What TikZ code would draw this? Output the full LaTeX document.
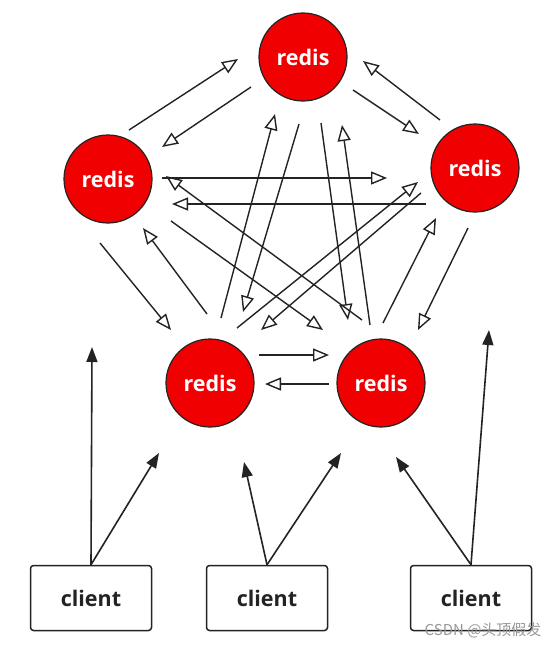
\documentclass[tikz,border=0pt]{standalone}
\usepackage{fontspec}
\setmainfont{Open Sans}
\newfontfamily\cjkfont{Noto Sans CJK SC}
\usetikzlibrary{arrows.meta,calc}
\definecolor{ink}{RGB}{35,35,35}
\definecolor{redisred}{RGB}{240,0,0}
\tikzset{
  redisnode/.style={circle,draw=ink,line width=1.2pt,fill=redisred,minimum size=88pt,inner sep=0pt,
    text=white,font=\bfseries\fontsize{21.5}{21.5}\selectfont},
  clientbox/.style={draw=ink,line width=1.5pt,rounded corners=3pt,minimum width=121pt,minimum height=65pt,
    font=\bfseries\fontsize{21.5}{21.5}\selectfont,text=ink},
  oa/.style={draw=ink,line width=1.4pt,-{Triangle[open,length=16pt,width=13pt,line width=1.4pt]}},
  fa/.style={draw=ink,line width=1.6pt,-{Triangle[length=15pt,width=11pt]}},
}
\begin{document}
\begin{tikzpicture}[x=1pt,y=-1pt]
\useasboundingbox[fill=white] (0,0) rectangle (559,648);
\node[redisnode] (T) at (303,57) {redis};
\node[redisnode] (L) at (108,179) {redis};
\node[redisnode] (R) at (475,168) {redis};
\node[redisnode] (BL) at (210,383) {redis};
\node[redisnode] (BR) at (381,383) {redis};
\node[clientbox] (C1) at (91,598) {client};
\node[clientbox] (C2) at (267,598) {client};
\node[clientbox] (C3) at (471,598) {client};
% redis mesh
\draw[oa] ($(L)+(21,-49)$) -- ($(T)+(-65,2)$);
\draw[oa] ($(T)+(-52,30)$) -- ($(L)+(54,-32)$);
\draw[oa] ($(T)+(50,33)$) -- ($(R)+(-56,-34)$);
\draw[oa] ($(R)+(-35,-48)$) -- ($(T)+(60,4)$);
\draw[oa] ($(L)+(54,-1)$) -- ($(R)+(-88,10)$);
\draw[oa] ($(R)+(-49,36)$) -- ($(L)+(64,25)$);
\draw[oa] ($(BL)+(11,-65)$) -- ($(T)+(-28,57)$);
\draw[oa] ($(T)+(-4,67)$) -- ($(BL)+(33,-71)$);
\draw[oa] ($(T)+(18,66)$) -- ($(BR)+(-33,-63)$);
\draw[oa] ($(BR)+(-11,-58)$) -- ($(T)+(39,68)$);
\draw[oa] ($(L)+(-8,64)$) -- ($(BL)+(-39,-53)$);
\draw[oa] ($(BL)+(-3,-69)$) -- ($(L)+(35,49)$);
\draw[oa] ($(BR)+(2,-60)$) -- ($(R)+(-39,50)$);
\draw[oa] ($(R)+(-7,60)$) -- ($(BR)+(37,-53)$);
\draw[oa] ($(L)+(63,42)$) -- ($(BR)+(-58,-53)$);
\draw[oa] ($(BR)+(-19,-63)$) -- ($(L)+(58,-3)$);
\draw[oa] ($(BL)+(27,-55)$) -- ($(R)+(-57,14)$);
\draw[oa] ($(R)+(-54,25)$) -- ($(BL)+(51,-53)$);
\draw[oa] ($(BL)+(49,-28)$) -- ($(BR)+(-52,-28)$);
\draw[oa] ($(BR)+(-52,1)$) -- ($(BL)+(55,1)$);
% client arrows
\coordinate (c1a) at (92,347);
\coordinate (c1b) at (159,453);
\coordinate (c2a) at (244,462);
\coordinate (c2b) at (341,453);
\coordinate (c3a) at (396,457);
\coordinate (c3b) at (489,330);
\draw[fa] (C1.north) -- (c1a);
\draw[fa] (C1.north) -- (c1b);
\draw[fa] (C2.north) -- (c2a);
\draw[fa] (C2.north) -- (c2b);
\draw[fa] (C3.north) -- (c3a);
\draw[fa] (C3.north) -- (c3b);
\node[font=\cjkfont\fontsize{15}{15}\selectfont,text=black!40,anchor=east] (wm) at (545,630) {CSDN @头顶假发};
\end{tikzpicture}
\end{document}
